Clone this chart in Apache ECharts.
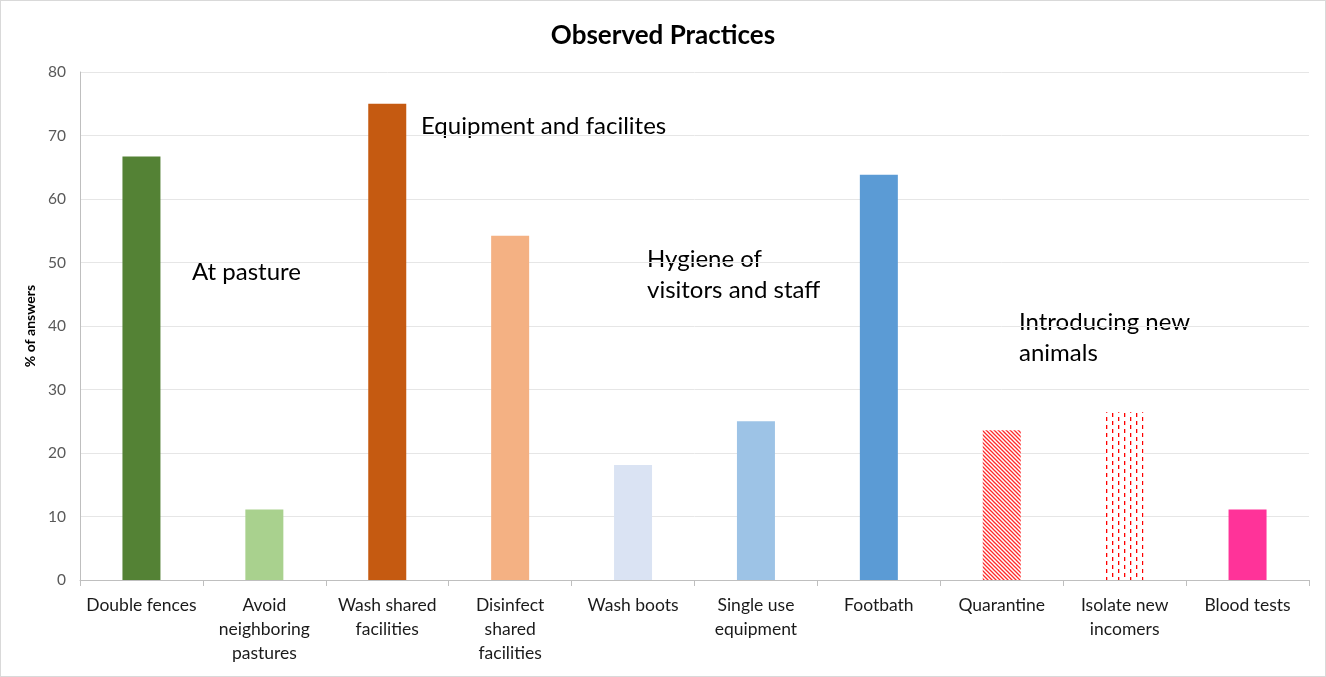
<!DOCTYPE html>
<html>
<head>
<meta charset="utf-8">
<script src="https://cdn.jsdelivr.net/npm/echarts@6/dist/echarts.min.js"></script>
<style>
  html, body { margin: 0; padding: 0; background: #fff; }
  #chart {
    width: 1326px;
    height: 677px;
    box-sizing: border-box;
    border: 1px solid #d9d9d9;
  }
</style>
</head>
<body>
<div id="chart"></div>
<script>
// categories on the x axis
const categories = [
  'Double fences',
  'Avoid\nneighboring\npastures',
  'Wash shared\nfacilities',
  'Disinfect\nshared\nfacilities',
  'Wash boots',
  'Single use\nequipment',
  'Footbath',
  'Quarantine',
  'Isolate new\nincomers',
  'Blood tests'
];
// % of answers
const values = [66.7, 11.1, 75.0, 54.2, 18.1, 25.0, 63.8, 23.6, 26.4, 11.1];
const yTicks = [0, 10, 20, 30, 40, 50, 60, 70, 80];

// group labels drawn over the plot (left, vertical centre of first line)
const groupLabels = [
  { text: 'At pasture', left: 191, mid: 273 },
  { text: 'Equipment and facilites', left: 420, mid: 127 },
  { text: 'Hygiene of\nvisitors and staff', left: 646, mid: 260 },
  { text: 'Introducing new\nanimals', left: 1018, mid: 323 }
];

// patterned fills (hatch / dashed columns)
function hatchPattern() {
  const c = document.createElement('canvas');
  c.width = 4; c.height = 4;
  const ctx = c.getContext('2d');
  ctx.fillStyle = '#fff';
  ctx.fillRect(0, 0, 4, 4);
  ctx.strokeStyle = '#ff2a2a';
  ctx.lineWidth = 1.3;
  ctx.beginPath();
  ctx.moveTo(-1, -1); ctx.lineTo(5, 5);
  ctx.moveTo(-1, 3); ctx.lineTo(1, 5);
  ctx.moveTo(3, -1); ctx.lineTo(5, 1);
  ctx.stroke();
  return c;
}
function dashPattern() {
  const c = document.createElement('canvas');
  c.width = 12; c.height = 8;
  const ctx = c.getContext('2d');
  ctx.fillStyle = '#fff';
  ctx.fillRect(0, 0, 12, 8);
  ctx.fillStyle = '#ff0000';
  ctx.fillRect(1, 0, 1.3, 4);
  ctx.fillRect(7, 4, 1.3, 4);
  return c;
}

const barColors = [
  '#548235', '#a9d18e', '#c55a11', '#f4b183', '#dae3f3',
  '#9dc3e6', '#5b9bd5',
  { image: hatchPattern(), repeat: 'repeat' },
  { image: dashPattern(), repeat: 'repeat' },
  '#ff3399'
];

const chart = echarts.init(document.getElementById('chart'));
const fontFamily = 'Lato, "Open Sans", sans-serif';

const option = {
  animation: false,
  textStyle: { fontFamily: fontFamily },
  title: {
    text: 'Observed Practices',
    left: 'center',
    top: 17,
    textStyle: { fontSize: 26, fontWeight: 'bold', color: '#000', fontFamily: fontFamily }
  },
  grid: {
    left: 79,
    right: 16,
    top: 71,
    bottom: 96
  },
  xAxis: {
    type: 'category',
    data: categories,
    axisLine: { lineStyle: { color: '#bfbfbf' } },
    axisTick: { show: true, alignWithLabel: false, length: 6, lineStyle: { color: '#bfbfbf' } },
    axisLabel: {
      interval: 0,
      margin: 13,
      fontSize: 17.5,
      lineHeight: 24,
      color: '#1a1a1a',
      fontFamily: fontFamily
    }
  },
  yAxis: {
    type: 'value',
    min: yTicks[0],
    max: yTicks[yTicks.length - 1],
    interval: 10,
    name: '% of answers',
    nameLocation: 'middle',
    nameGap: 36,
    nameTextStyle: { fontSize: 14, fontWeight: 'bold', color: '#000', fontFamily: fontFamily },
    axisLine: { show: true, lineStyle: { color: '#bfbfbf' } },
    axisTick: { show: false },
    axisLabel: { fontSize: 15.5, color: '#595959', margin: 14, fontFamily: fontFamily },
    splitLine: { lineStyle: { color: '#e6e6e6' } }
  },
  series: [
    {
      type: 'bar',
      barWidth: 38,
      data: values.map((v, i) => ({ value: v, itemStyle: { color: barColors[i] } }))
    }
  ],
  graphic: groupLabels.map(g => ({
    type: 'text',
    left: g.left,
    top: g.mid - 17,
    style: {
      text: g.text,
      fontSize: 24,
      lineHeight: 31,
      fill: '#000',
      fontFamily: fontFamily
    }
  }))
};

chart.setOption(option);
</script>
</body>
</html>
